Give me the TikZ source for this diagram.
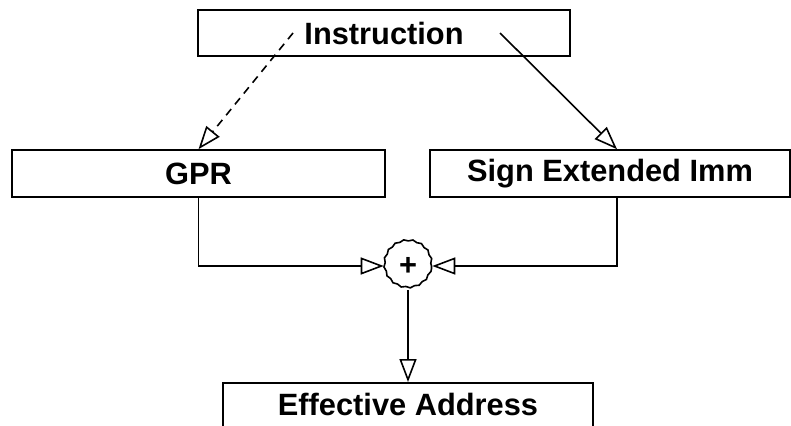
\documentclass[tikz,border=0pt]{standalone}
\usepackage{fontspec}
\setmainfont{Liberation Sans}
\usetikzlibrary{arrows.meta,decorations.pathmorphing,calc}
\begin{document}
\begin{tikzpicture}[x=1pt,y=-1pt, line width=1.6pt,
  box/.style={draw, rectangle, inner sep=0pt, font=\fontsize{30.8}{32}\selectfont\bfseries},
  lbl/.style={inner sep=0pt, font=\fontsize{30.8}{32}\selectfont\bfseries},
  tip/.style={-{Triangle[open,length=23pt,width=17pt,line width=1.6pt]}}]
\useasboundingbox (0,0) rectangle (791,425);
\clip (0,0) rectangle (791,425);
\node[box, minimum width=372pt, minimum height=46pt] (instr) at (384,33) {Instruction};
\node[box, minimum width=373pt, minimum height=47pt] (gpr) at (198.5,173.5) {GPR};
\node[box, minimum width=360pt, minimum height=47pt] (sign) at (610,173.5) {Sign Extended Imm};
\node[circle, minimum size=47pt, inner sep=0pt, font=\fontsize{30.8}{32}\selectfont\bfseries] (sum) at (408,266) {+};
\draw[decorate, decoration={snake, amplitude=0.7pt, segment length=9pt}] (sum.center) circle (23.5pt);
\node[box, minimum width=370pt, minimum height=70pt, anchor=north] (ea) at (408,382) {};
\node[lbl] (eatext) at (408,404) {Effective Address};
\coordinate (da) at (293,33);
\coordinate (sa) at (500,33);
\coordinate (st) at ($(sign.north)+(7,0)$);
\coordinate (sb) at ($(sign.south)+(7,0)$);
\draw[tip, dash pattern=on 8pt off 6pt] (da) -- (gpr.north);
\draw[tip] (sa) -- (st);
\draw[tip] (gpr.south) |- (sum.west);
\draw[tip] (sb) |- (sum.east);
\draw[tip] (sum.south) -- (ea.north);
\end{tikzpicture}
\end{document}
